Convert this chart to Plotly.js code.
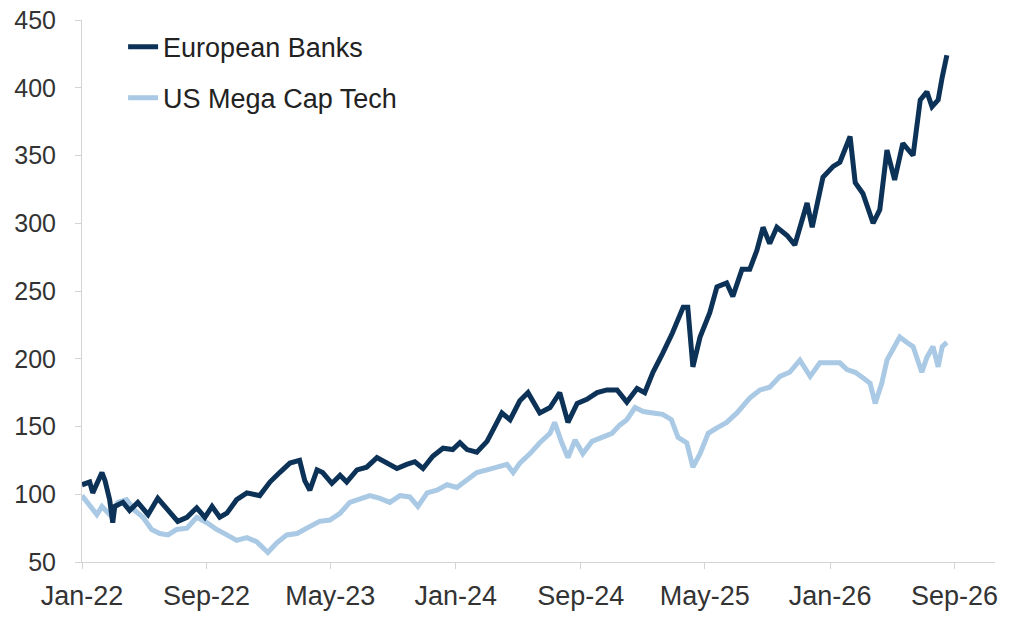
<!DOCTYPE html>
<html lang="en">
<head>
    <meta charset="UTF-8">
    <title>European Banks vs US Mega Cap Tech</title>
    <script src="https://cdn.plot.ly/plotly-3.0.1.min.js"></script>
    <style>
        body { margin: 0; background: #fff; }
        #plot { width: 1024px; height: 639px; }
    </style>
</head>

<body>
<div id="plot"></div>

<script>

    // European Banks, rebased index
    const bankDates = [
        '2022-01-01', '2022-01-16', '2022-01-22', '2022-01-30', '2022-02-09', '2022-02-15', '2022-02-24',
        '2022-03-02', '2022-03-06', '2022-03-22', '2022-04-04', '2022-04-20', '2022-05-10', '2022-05-29',
        '2022-06-12', '2022-06-26', '2022-07-07', '2022-07-25', '2022-08-13', '2022-08-29', '2022-09-12',
        '2022-09-27', '2022-10-11', '2022-10-30', '2022-11-19', '2022-12-14', '2023-01-03', '2023-01-22',
        '2023-02-11', '2023-03-02', '2023-03-12', '2023-03-22', '2023-04-05', '2023-04-16', '2023-05-04',
        '2023-05-20', '2023-06-02', '2023-06-22', '2023-07-11', '2023-07-31', '2023-08-19', '2023-09-08',
        '2023-09-27', '2023-10-13', '2023-10-29', '2023-11-17', '2023-12-07', '2023-12-26', '2024-01-09',
        '2024-01-23', '2024-02-11', '2024-03-02', '2024-03-13', '2024-03-31', '2024-04-16', '2024-05-05',
        '2024-05-21', '2024-06-13', '2024-07-03', '2024-07-22', '2024-08-07', '2024-08-25', '2024-09-13',
        '2024-10-03', '2024-10-22', '2024-11-11', '2024-11-30', '2024-12-20', '2025-01-04', '2025-01-20',
        '2025-02-08', '2025-02-27', '2025-03-20', '2025-03-29', '2025-04-08', '2025-04-22', '2025-05-11',
        '2025-05-25', '2025-06-13', '2025-06-25', '2025-07-13', '2025-07-28', '2025-08-11', '2025-08-23',
        '2025-09-05', '2025-09-19', '2025-10-09', '2025-10-24', '2025-11-17', '2025-11-27', '2025-12-18',
        '2026-01-07', '2026-01-20', '2026-02-09', '2026-02-19', '2026-03-06', '2026-03-26', '2026-04-08',
        '2026-04-22', '2026-05-07', '2026-05-23', '2026-06-12', '2026-06-26', '2026-07-09', '2026-07-19',
        '2026-07-31', '2026-08-08', '2026-08-17'
    ]
    const bankValues = [
        107, 109, 101, 108, 116, 110, 96,
        79, 91, 94, 88, 94, 85, 97,
        91, 86, 80, 83, 90, 83, 91,
        83, 86, 96, 101, 99, 109, 116,
        123, 125, 110, 103, 118, 116, 108,
        114, 109, 118, 120, 127, 123, 119,
        122, 124, 119, 128, 134, 133, 138,
        133, 131, 139, 147, 160, 155, 169,
        175, 160, 164, 175, 153, 167, 170,
        175, 177, 177, 168, 178, 175, 190,
        204, 219, 238, 238, 194, 216, 234,
        253, 256, 246, 266, 266, 280, 297,
        285, 297, 291, 284, 315, 297, 334,
        342, 345, 364, 330, 322, 300, 310,
        354, 332, 359, 350, 391, 397, 386,
        391, 408, 424
    ]

    // US Mega Cap Tech, rebased index
    const techDates = [
        '2022-01-01', '2022-01-16', '2022-01-30', '2022-02-09', '2022-02-24', '2022-03-12', '2022-03-29',
        '2022-04-14', '2022-04-30', '2022-05-17', '2022-06-02', '2022-06-18', '2022-07-05', '2022-07-25',
        '2022-08-13', '2022-09-02', '2022-09-21', '2022-10-11', '2022-10-30', '2022-11-19', '2022-12-08',
        '2022-12-30', '2023-01-16', '2023-02-05', '2023-02-25', '2023-03-16', '2023-04-10', '2023-04-30',
        '2023-05-20', '2023-06-08', '2023-06-28', '2023-07-17', '2023-08-06', '2023-08-25', '2023-09-14',
        '2023-10-03', '2023-10-19', '2023-11-06', '2023-11-25', '2023-12-15', '2024-01-03', '2024-01-23',
        '2024-02-11', '2024-03-02', '2024-03-21', '2024-04-10', '2024-04-22', '2024-05-05', '2024-05-25',
        '2024-06-13', '2024-07-03', '2024-07-12', '2024-07-26', '2024-08-07', '2024-08-21', '2024-09-05',
        '2024-09-23', '2024-10-12', '2024-11-01', '2024-11-16', '2024-11-30', '2024-12-16', '2025-01-01',
        '2025-01-20', '2025-02-08', '2025-02-25', '2025-03-10', '2025-03-27', '2025-04-08', '2025-04-22',
        '2025-05-08', '2025-05-25', '2025-06-13', '2025-07-03', '2025-07-28', '2025-08-17', '2025-09-05',
        '2025-09-25', '2025-10-14', '2025-11-03', '2025-11-23', '2025-12-12', '2026-01-01', '2026-01-20',
        '2026-02-03', '2026-02-19', '2026-03-06', '2026-03-20', '2026-03-30', '2026-04-12', '2026-04-22',
        '2026-05-04', '2026-05-17', '2026-05-31', '2026-06-12', '2026-06-29', '2026-07-09', '2026-07-21',
        '2026-07-31', '2026-08-08', '2026-08-17'
    ]
    const techValues = [
        99, 91, 85, 91, 85, 94, 96,
        88, 83, 74, 71, 70, 74, 75,
        83, 79, 74, 70, 66, 68, 65,
        57, 64, 70, 71, 75, 80, 81,
        86, 94, 97, 99, 97, 94, 99,
        98, 91, 101, 103, 107, 105, 111,
        116, 118, 120, 122, 116, 123, 130,
        138, 145, 153, 138, 127, 140, 130,
        139, 142, 145, 151, 155, 164, 161,
        160, 159, 155, 142, 138, 120, 130,
        145, 149, 153, 160, 171, 177, 179,
        187, 190, 199, 187, 197, 197, 197,
        192, 190, 186, 182, 167, 182, 199,
        207, 216, 212, 209, 190, 201, 209,
        194, 209, 212
    ]

    const seriesNames = ['European Banks', 'US Mega Cap Tech']
    const yTicks = [50, 100, 150, 200, 250, 300, 350, 400, 450]

    const font = "'Liberation Sans', Arial, sans-serif"

    // tech is drawn first so the banks line sits on top where they cross
    const dataTech = {
        x: techDates,
        y: techValues,
        name: seriesNames[1],
        legendgroup: 'tech',
        legendrank: 2,
        type: 'scatter',
        mode: 'lines',
        line: { color: '#a9c9e4', width: 5 }
    }

    const dataBanks = {
        x: bankDates,
        y: bankValues,
        name: seriesNames[0],
        legendgroup: 'banks',
        legendrank: 1,
        type: 'scatter',
        mode: 'lines',
        line: { color: '#0d3257', width: 5 }
    }

    const layout = {
        width: 1024,
        height: 639,
        margin: { l: 82, r: 29, t: 20, b: 77 },
        paper_bgcolor: '#ffffff',
        plot_bgcolor: '#ffffff',
        font: { family: font, size: 25, color: '#333333' },
        showlegend: true,
        legend: {
            x: 0.045,
            y: 0.995,
            xanchor: 'left',
            yanchor: 'top',
            traceorder: 'grouped',
            tracegroupgap: 13,
            bgcolor: 'rgba(0,0,0,0)',
            font: { family: font, size: 27, color: '#222222' }
        },
        xaxis: {
            type: 'date',
            range: ['2022-01-01', '2026-11-19'],
            tick0: '2022-01-01',
            dtick: 'M8',
            tickformat: '%b-%y',
            showgrid: false,
            zeroline: false,
            showline: true,
            linecolor: '#d4d4d4',
            linewidth: 1,
            ticks: 'outside',
            ticklen: 6,
            tickcolor: '#d4d4d4',
            ticklabelstandoff: 4,
            tickfont: { family: font, size: 27, color: '#333333' }
        },
        yaxis: {
            range: [50, 450],
            tickvals: yTicks,
            showgrid: false,
            zeroline: false,
            showline: true,
            linecolor: '#d4d4d4',
            linewidth: 1,
            ticks: 'outside',
            ticklen: 6,
            tickcolor: '#d4d4d4',
            ticklabelstandoff: 14,
            tickfont: { family: font, size: 25, color: '#333333' }
        }
    }

    Plotly.newPlot('plot', [dataTech, dataBanks], layout, { displayModeBar: false, staticPlot: true })

</script>

</body>
</html>
